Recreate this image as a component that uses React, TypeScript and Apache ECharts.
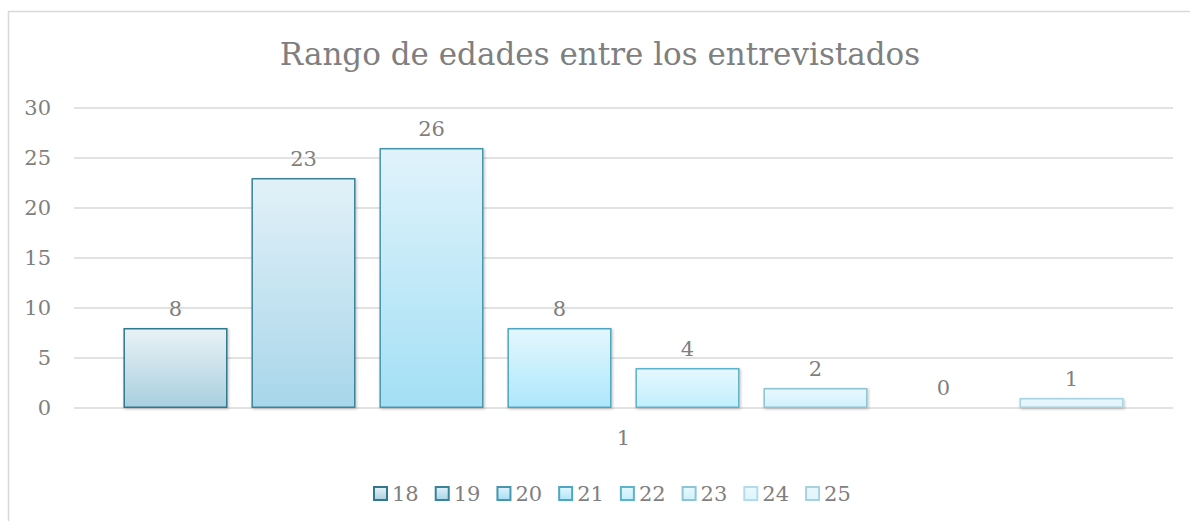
import React, { useEffect, useRef } from "react";
import * as echarts from "echarts";

const TITLE = "Rango de edades entre los entrevistados";
const categories = ["1"];
const seriesNames = ["18", "19", "20", "21", "22", "23", "24", "25"];
const values = [8, 23, 26, 8, 4, 2, 0, 1];
const yTicks = { min: 0, max: 30, interval: 5 };

const borderColors = ["#31788c", "#3a8499", "#4796ae", "#4fa6c2", "#5fb2cc", "#8ec4d4", "#b3dbe8", "#a9d2e0"];
const topColors = ["#e9f2f6", "#e2f1f8", "#e0f3fb", "#e3f7fe", "#e6f8fe", "#e8f8fe", "#eaf9ff", "#e8f7fd"];
const bottomColors = ["#a9cfdf", "#a8d6ea", "#a3dff5", "#ade7fb", "#c1effd", "#d0f2fc", "#dcf5fd", "#dff5fc"];

const FONT = "DejaVu Serif";
const TEXT = "#7f7f7f";

export default function App() {
  const ref = useRef<HTMLDivElement>(null);
  useEffect(() => {
    if (!ref.current) return;
    const chart = echarts.init(ref.current, null, { renderer: "svg" });
    const series = seriesNames.map((name, i) => ({
      name,
      type: "bar",
      data: [values[i]],
      barGap: "23%",
      barCategoryGap: "9%",
      itemStyle: {
        color: new echarts.graphic.LinearGradient(0, 0, 0, 1, [
          { offset: 0, color: topColors[i] },
          { offset: 1, color: bottomColors[i] },
        ]),
        borderColor: borderColors[i],
        borderWidth: 1.5,
        shadowColor: "rgba(0,0,0,0.25)",
        shadowBlur: 3,
        shadowOffsetX: 1,
        shadowOffsetY: 1,
      },
      label: {
        show: true,
        position: "top",
        distance: 9,
        color: TEXT,
        fontFamily: FONT,
        fontSize: 21,
      },
    }));
    chart.setOption({
      animation: false,
      backgroundColor: "#ffffff",
      title: {
        text: TITLE,
        left: 595,
        textAlign: "center",
        top: 33,
        textStyle: { color: TEXT, fontFamily: FONT, fontSize: 31, fontWeight: "normal" },
      },
      graphic: [
        {
          type: "rect",
          shape: { x: 8.5, y: 11.5, width: 1300, height: 700 },
          style: { fill: "none", stroke: "#d9d9d9", lineWidth: 1.5 },
          silent: true,
          z: -1,
        },
      ],
      legend: {
        left: 368,
        top: 478,
        itemWidth: 13,
        itemHeight: 13,
        itemGap: 16,
        icon: "rect",
        textStyle: { color: TEXT, fontFamily: FONT, fontSize: 21 },
        data: seriesNames,
      },
      grid: { left: 74, right: 17, top: 108, bottom: 113, containLabel: false },
      xAxis: {
        type: "category",
        data: categories,
        axisLine: { show: false },
        axisTick: { show: false },
        axisLabel: { color: TEXT, fontFamily: FONT, fontSize: 21, margin: 19 },
      },
      yAxis: {
        type: "value",
        min: yTicks.min,
        max: yTicks.max,
        interval: yTicks.interval,
        axisLine: { show: false },
        axisTick: { show: false },
        axisLabel: { color: TEXT, fontFamily: FONT, fontSize: 21, margin: 23 },
        splitLine: { lineStyle: { color: "#d9d9d9", width: 1.5 } },
      },
      series,
    });
    return () => chart.dispose();
  }, []);
  return (
    <div
      ref={ref}
      style={{ position: "fixed", left: 0, top: 0, width: 1190, height: 521, background: "#fff" }}
    />
  );
}
